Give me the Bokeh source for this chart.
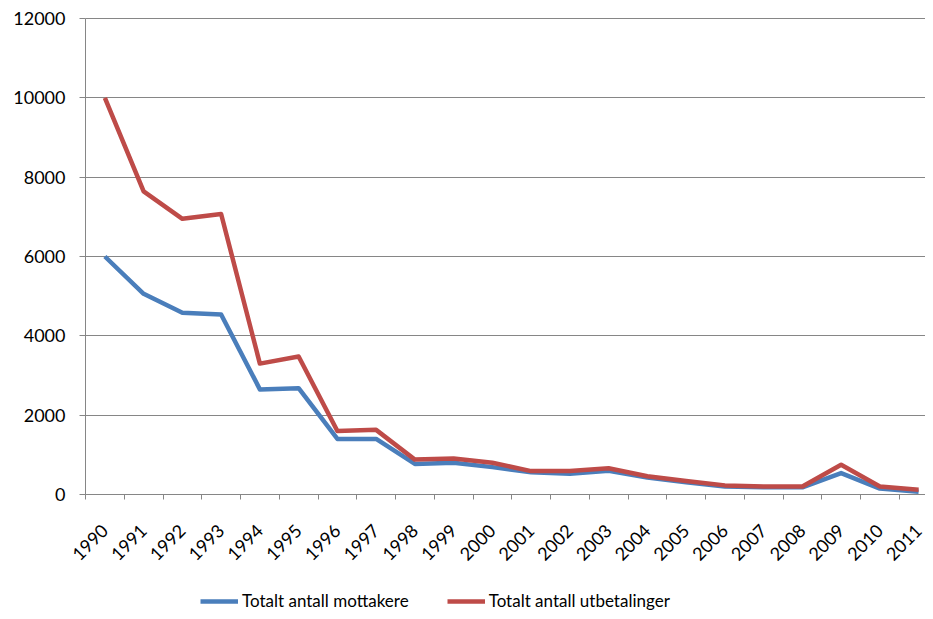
from bokeh.plotting import figure
from bokeh.models import Range1d, FixedTicker, Legend, LegendItem
from bokeh.embed import file_html
from bokeh.resources import INLINE

years = list(range(1990, 2012))
year_labels = [str(y) for y in years]
mottakere = [6000, 5060, 4580, 4540, 2650, 2680, 1400, 1400, 770, 800, 690,
             560, 520, 600, 430, 310, 200, 180, 180, 540, 150, 70]
utbetalinger = [10000, 7640, 6950, 7070, 3300, 3480, 1600, 1630, 880, 910, 800,
                590, 590, 660, 460, 340, 230, 200, 200, 750, 200, 120]
y_ticks = [0, 2000, 4000, 6000, 8000, 10000, 12000]
series_names = ["Totalt antall mottakere", "Totalt antall utbetalinger"]
series_colors = ["#4A7EBB", "#BE4B48"]

FONT = "Lato"
GRAY = "#868686"

W, H = 925, 611
LEFT, TOP = 85, 18      # pixel position of the axes' corner (top-left of plot area)
PLOT_H = 476            # pixel height of the 0..12000 band
CAT_W = 38.75           # pixel width of one year slot
per_px = y_ticks[-1] / PLOT_H
x0 = years[0] - 0.5
x_start = x0 - LEFT / CAT_W
x_end = x0 + (W - LEFT) / CAT_W
y_start = -(H - TOP - PLOT_H) * per_px
y_end = y_ticks[-1] + TOP * per_px

p = figure(width=W, height=H, output_backend="svg", toolbar_location=None,
           x_range=Range1d(x_start, x_end), y_range=Range1d(y_start, y_end),
           min_border_left=0, min_border_right=0, min_border_top=0,
           min_border_bottom=0)
p.outline_line_color = None
p.background_fill_color = "white"
p.border_fill_color = "white"

r1 = p.line(years, mottakere, color=series_colors[0], line_width=4.5, line_join="round")
r2 = p.line(years, utbetalinger, color=series_colors[1], line_width=4.5, line_join="round")

# x axis, placed at y = 0
xa = p.xaxis[0]
xa.fixed_location = 0
xa.bounds = (x0, x_end)
xa.ticker = FixedTicker(ticks=years, minor_ticks=[y - 0.5 for y in years])
xa.major_label_overrides = {y: l for y, l in zip(years, year_labels)}
xa.major_label_orientation = 0.785398
xa.major_tick_out = 0
xa.major_tick_in = 0
xa.minor_tick_out = 5
xa.minor_tick_in = 0
xa.minor_tick_line_color = GRAY
xa.axis_line_color = GRAY
xa.major_label_standoff = 28
xa.major_label_text_font = FONT
xa.major_label_text_font_size = "18px"
xa.major_label_text_color = "black"

# y axis, placed at the left edge of the first year slot
ya = p.yaxis[0]
ya.fixed_location = x0
ya.bounds = (y_ticks[0], y_ticks[-1])
ya.ticker = FixedTicker(ticks=y_ticks, minor_ticks=[])
ya.major_tick_out = 6
ya.major_tick_in = 0
ya.major_tick_line_color = GRAY
ya.axis_line_color = GRAY
ya.major_label_standoff = 14
ya.major_label_text_font = FONT
ya.major_label_text_font_size = "18px"
ya.major_label_text_color = "black"

p.xgrid.grid_line_color = None
p.ygrid.grid_line_color = GRAY
p.ygrid.grid_line_width = 1
p.ygrid.bounds = (y_ticks[0], y_ticks[-1])
p.ygrid.cross_bounds = (x0, x_end)

legend = Legend(items=[LegendItem(label=series_names[0], renderers=[r1]),
                       LegendItem(label=series_names[1], renderers=[r2])],
                location=(200, 0), orientation="horizontal",
                glyph_width=38, glyph_height=18, label_standoff=4, spacing=38,
                padding=0, margin=0, border_line_color=None,
                background_fill_alpha=0,
                label_text_font=FONT, label_text_font_size="17px",
                label_text_color="black")
p.add_layout(legend, "center")

open("out.html", "w").write(file_html(p, INLINE))
